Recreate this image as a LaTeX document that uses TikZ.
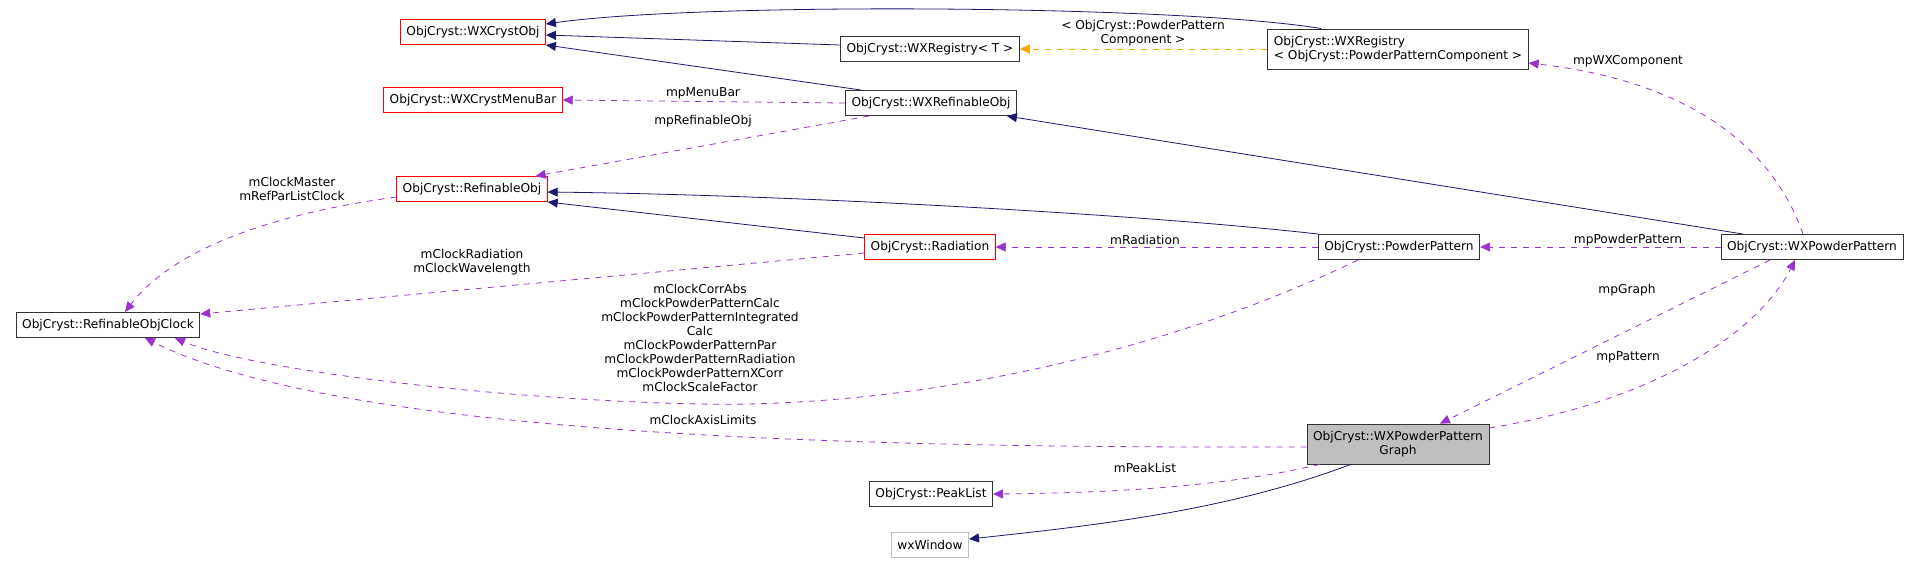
\documentclass[tikz,border=0pt]{standalone}
\usepackage{fontspec}
\setmainfont{DejaVu Sans}
\usepackage{tikz}
\usetikzlibrary{positioning,arrows.meta,calc}
\definecolor{inhblue}{HTML}{191970}
\definecolor{usepurple}{HTML}{9A32CD}
\definecolor{tmplorange}{HTML}{FFA500}
\newcommand{\fs}{\fontsize{6.1}{7}\selectfont}

\begin{document}
\begin{tikzpicture}[x=0.5pt,y=-0.5pt,
  box/.style={draw=black!80, fill=white, font=\fs, align=center, inner xsep=3pt, inner ysep=1.5pt, minimum height=12.6pt},
  redbox/.style={box, draw=red},
  lbl/.style={font=\fs, align=center, inner sep=0pt},
  inh/.style={draw=inhblue, -{Triangle[length=5pt,width=4.5pt]}},
  use/.style={draw=usepurple, dashed, -{Triangle[length=5pt,width=4.5pt]}},
  tmpl/.style={draw=tmplorange, dashed, -{Triangle[length=5pt,width=4.5pt]}}]

  \useasboundingbox (0,0) rectangle (1919,564);

  % Classes
  \node[redbox] (crystobj) at (473,32) {ObjCryst::WXCrystObj};
  \node[box] (regT) at (930,49) {ObjCryst::WXRegistry< T >};
  \node[box, align=left, minimum height=20pt] (regppc) at (1398,49) {ObjCryst::WXRegistry\\< ObjCryst::PowderPatternComponent >};
  \node[redbox] (menubar) at (473,100) {ObjCryst::WXCrystMenuBar};
  \node[box] (wxrob) at (931,103) {ObjCryst::WXRefinableObj};
  \node[redbox] (rob) at (472,189) {ObjCryst::RefinableObj};
  \node[redbox] (rad) at (930,247) {ObjCryst::Radiation};
  \node[box] (pp) at (1399,247) {ObjCryst::PowderPattern};
  \node[box] (wxpp) at (1812,247) {ObjCryst::WXPowderPattern};
  \node[box] (clock) at (108,325) {ObjCryst::RefinableObjClock};
  \node[box, fill=black!25, minimum height=20pt] (graph) at (1398,444) {ObjCryst::WXPowderPattern\\Graph};
  \node[box] (peak) at (931,494) {ObjCryst::PeakList};
  \node[box, draw=black!25] (wxwin) at (930,545) {wxWindow};

  % Inheritance
  \draw[inh] ([xshift=27pt]regppc.north west) .. controls (1180,5) and (700,2) .. ([yshift=4pt]crystobj.east);
  \draw[inh] ([yshift=2pt]regT.west) -- ([yshift=-1.5pt]crystobj.east);
  \draw[inh] ([xshift=8pt]wxrob.north west) -- (crystobj.south east);
  \draw[inh] ([xshift=11pt]wxpp.north west) -- ([xshift=-5pt]wxrob.south east);
  \draw[inh] (pp.north west) .. controls (1150,215) and (800,195) .. ([yshift=-1.5pt]rob.east);
  \draw[inh] ([yshift=4.5pt]rad.west) -- (rob.south east);
  \draw[inh] ([xshift=22pt]graph.south west) .. controls (1230,510) and (1100,525) .. ([yshift=3pt]wxwin.east);

  % Template instance
  \draw[tmpl] (regppc.west) -- (regT.east);
  \node[lbl] (tmpllbl) at (1143,33) {< ObjCryst::PowderPattern\\Component >};

  % Usage
  \draw[use] (wxrob.west) -- (menubar.east);
  \node[lbl] (menulbl) at (703,93) {mpMenuBar};
  \draw[use] ([xshift=12pt]wxrob.south west) -- ([xshift=-6pt]rob.north east);
  \node[lbl] (roblbl) at (703,121) {mpRefinableObj};
  \draw[use] ([yshift=-4pt]rob.west) .. controls (300,210) and (180,240) .. ([xshift=8.5pt]clock.north);
  \node[lbl] (clklbl1) at (292,189) {mClockMaster\\mRefParListClock};
  \draw[use] ([yshift=-3pt]rad.west) -- ([yshift=5.5pt]clock.east);
  \node[lbl] (clklbl2) at (472,262) {mClockRadiation\\mClockWavelength};
  \coordinate (ppmid) at (700,404);
  \draw[use] ([xshift=-20.5pt]pp.south) .. controls (1150,360) and (900,408) .. (ppmid)
    .. controls (500,400) and (250,370) .. ([xshift=33.5pt]clock.south);
  \node[lbl] (clklbl3) at (700,338) {mClockCorrAbs\\mClockPowderPatternCalc\\mClockPowderPatternIntegrated\\Calc\\mClockPowderPatternPar\\mClockPowderPatternRadiation\\mClockPowderPatternXCorr\\mClockScaleFactor};
  \draw[use] ([yshift=-1.5pt]graph.west) .. controls (900,448) and (350,440) .. ([xshift=18.5pt]clock.south);
  \node[lbl] (clklbl4) at (703,420) {mClockAxisLimits};
  \draw[use] ([xshift=6.5pt]graph.south west) .. controls (1220,488) and (1100,493) .. (peak.east);
  \node[lbl] (peaklbl) at (1145,468) {mPeakList};
  \draw[use] (pp.west) -- (rad.east);
  \node[lbl] (radlbl) at (1145,240) {mRadiation};
  \draw[use] (wxpp.west) -- (pp.east);
  \node[lbl] (pplbl) at (1628,240) {mpPowderPattern};
  \draw[use] ([xshift=-4.5pt]wxpp.north) .. controls (1770,140) and (1680,80) .. ([yshift=-7pt]regppc.east);
  \node[lbl] (complbl) at (1628,61) {mpWXComponent};
  \draw[use] ([xshift=-21pt]wxpp.south) -- ([xshift=21pt]graph.north);
  \node[lbl] (graphlbl) at (1627,290) {mpGraph};
  \draw[use] ([yshift=8pt]graph.east) .. controls (1660,400) and (1760,330) .. ([xshift=-8.5pt]wxpp.south);
  \node[lbl] (patlbl) at (1628,357) {mpPattern};

\end{tikzpicture}
\end{document}
